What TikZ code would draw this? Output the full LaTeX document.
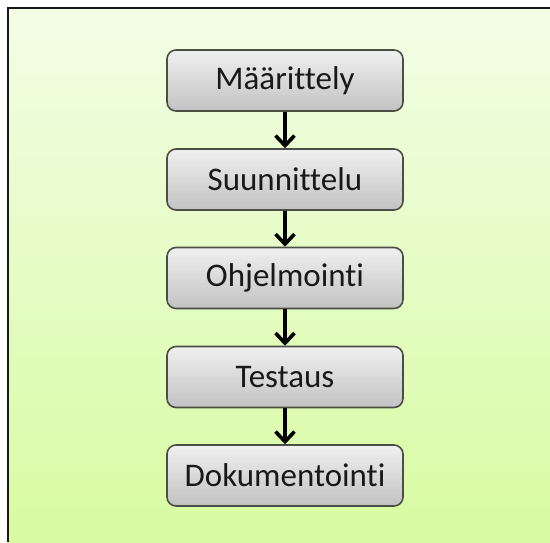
\documentclass[tikz,border=0pt]{standalone}
\usepackage{fontspec}
\setmainfont{Carlito}[Ligatures={NoCommon}]
\usetikzlibrary{arrows.meta}
\definecolor{bgtop}{HTML}{F3FDE6}
\definecolor{bgbot}{HTML}{D8FBA2}
\definecolor{boxline}{HTML}{4A4E44}
\definecolor{boxtop}{HTML}{F0F0F0}
\definecolor{boxbot}{HTML}{C2C2C2}
\begin{document}
\begin{tikzpicture}[x=1pt,y=-1pt,
  stepbox/.style={rectangle, rounded corners=9pt, draw=boxline, line width=1.6pt,
    top color=boxtop, bottom color=boxbot, minimum width=236pt, minimum height=61pt,
    inner sep=0pt, font=\fontsize{33}{38}\selectfont, text=black!90},
  flow/.style={line width=3.6pt, black, -{Straight Barb[length=10pt,width=19pt]}}]
\useasboundingbox (0,0) rectangle (550,542);
\fill[white] (0,0) rectangle (550,542);
\shade[top color=bgtop, bottom color=bgbot] (8,8) rectangle (550,542);
\draw[line width=2pt, black!90] (8,542) -- (8,8) -- (550,8);
\node[stepbox] (b1) at (285,80.5) {Määrittely};
\node[stepbox] (b2) at (285,179.5) {Suunnittelu};
\node[stepbox] (b3) at (285,278) {Ohjelmointi};
\node[stepbox] (b4) at (285,377) {Testaus};
\node[stepbox] (b5) at (285,475.5) {Dokumentointi};
\draw[flow] (b1) -- (b2);
\draw[flow] (b2) -- (b3);
\draw[flow] (b3) -- (b4);
\draw[flow] (b4) -- (b5);
\end{tikzpicture}
\end{document}
